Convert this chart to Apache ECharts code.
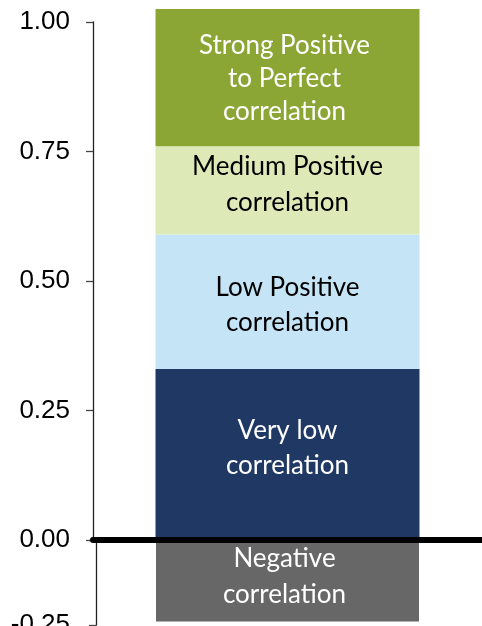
<!DOCTYPE html>
<html>
<head>
<meta charset="utf-8">
<script src="https://cdn.jsdelivr.net/npm/echarts@6/dist/echarts.min.js"></script>
<style>html,body{margin:0;padding:0;background:#fff;}#c{width:482px;height:626px;}</style>
</head>
<body>
<div id="c"></div>
<script>
const categories = ['Correlation'];
const bandNames = ['Very low\ncorrelation', 'Low Positive\ncorrelation', 'Medium Positive\ncorrelation', 'Strong Positive\nto Perfect\ncorrelation'];
const bandHeights = [0.33, 0.26, 0.17, 0.265];
const bandColors = ['#203864', '#C5E4F6', '#DDEAB8', '#8BA634'];
const bandTextColors = ['#ffffff', '#000000', '#000000', '#ffffff'];
const bandLabelOffsets = [[0, -6], [0, 3], [0, -6], [-3, 1]];
const bandLineHeights = [35, 35, 36, 33];
const negativeName = 'Negative\ncorrelation';
const negativeValue = -0.24;
const posTicks = [0, 0.25, 0.5, 0.75, 1];
const negTicks = [-0.25, 0];

const chart = echarts.init(document.getElementById('c'), null, {renderer: 'canvas'});
const axisFont = {fontFamily: 'Liberation Sans', fontSize: 26, color: '#000'};

const series = bandHeights.map((v, i) => ({
  type: 'bar',
  name: bandNames[i],
  xAxisIndex: 0, yAxisIndex: 0,
  stack: 'pos',
  barWidth: 264,
  clip: false,
  data: [v],
  itemStyle: {color: bandColors[i]},
  label: {
    show: true, position: 'inside', offset: bandLabelOffsets[i],
    color: bandTextColors[i], formatter: () => bandNames[i],
    fontFamily: 'Lato', fontSize: 26, lineHeight: bandLineHeights[i]
  }
}));
series.push({
  type: 'bar',
  name: negativeName,
  xAxisIndex: 1, yAxisIndex: 1,
  barWidth: 263,
  clip: false,
  data: [negativeValue],
  itemStyle: {color: '#676767'},
  label: {
    show: true, position: 'inside', offset: [-3, -4],
    color: '#ffffff', formatter: () => negativeName,
    fontFamily: 'Lato', fontSize: 26, lineHeight: 36
  }
});

chart.setOption({
  animation: false,
  grid: [
    {left: 93, right: 0, top: 22, height: 518, containLabel: false, outerBoundsMode: 'none'},
    {left: 93, right: 0, top: 540, height: 85, containLabel: false, outerBoundsMode: 'none'}
  ],
  xAxis: [
    {type: 'category', gridIndex: 0, data: categories, z: 10,
     axisLine: {show: true, lineStyle: {color: '#000', width: 6}},
     axisTick: {show: false}, axisLabel: {show: false}},
    {type: 'category', gridIndex: 1, data: categories, show: false}
  ],
  yAxis: [
    {type: 'value', gridIndex: 0, min: posTicks[0], max: posTicks[posTicks.length - 1], interval: 0.25,
     axisLine: {show: true, lineStyle: {color: '#222', width: 1.3}},
     axisTick: {show: true, length: 7, lineStyle: {color: '#444', width: 1.3}},
     splitLine: {show: false},
     axisLabel: Object.assign({margin: 23, formatter: v => v.toFixed(2)}, axisFont)},
    {type: 'value', gridIndex: 1, min: negTicks[0], max: negTicks[1], interval: 0.25, offset: -3,
     axisLine: {show: true, lineStyle: {color: '#222', width: 1.3}},
     axisTick: {show: true, length: 7, lineStyle: {color: '#444', width: 1.3}},
     splitLine: {show: false},
     axisLabel: Object.assign({margin: 26, formatter: v => (v < 0 ? v.toFixed(2) : '')}, axisFont)}
  ],
  series: series
});
</script>
</body>
</html>
